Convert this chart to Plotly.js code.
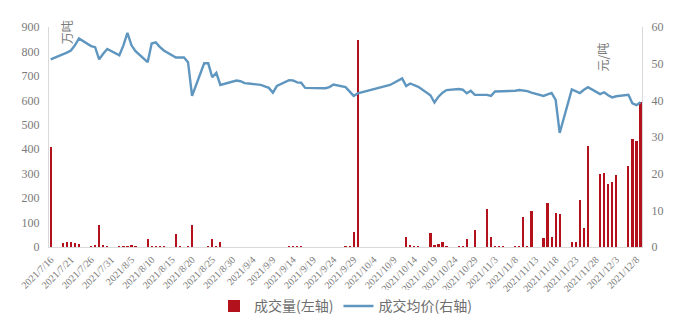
<!DOCTYPE html>
<html>
<head>
<meta charset="utf-8">
<script src="https://cdn.plot.ly/plotly-3.0.1.min.js"></script>
<style>
  html, body { margin: 0; padding: 0; background: #ffffff; }
  #chart { width: 693px; height: 335px; }
</style>
</head>
<body>
<div id="chart"></div>
<script>
// Trading days of the national carbon allowance market
const tradeDates = [
  '2021-07-16','2021-07-19','2021-07-20','2021-07-21','2021-07-22','2021-07-23',
  '2021-07-26','2021-07-27','2021-07-28','2021-07-29','2021-07-30',
  '2021-08-02','2021-08-03','2021-08-04','2021-08-05','2021-08-06',
  '2021-08-09','2021-08-10','2021-08-11','2021-08-12','2021-08-13',
  '2021-08-16','2021-08-17','2021-08-18','2021-08-19','2021-08-20',
  '2021-08-23','2021-08-24','2021-08-25','2021-08-26','2021-08-27',
  '2021-08-30','2021-08-31','2021-09-01','2021-09-02','2021-09-03',
  '2021-09-06','2021-09-07','2021-09-08','2021-09-09','2021-09-10',
  '2021-09-13','2021-09-14','2021-09-15','2021-09-16','2021-09-17',
  '2021-09-22','2021-09-23','2021-09-24',
  '2021-09-27','2021-09-28','2021-09-29','2021-09-30',
  '2021-10-08',
  '2021-10-11','2021-10-12','2021-10-13','2021-10-14','2021-10-15',
  '2021-10-18','2021-10-19','2021-10-20','2021-10-21','2021-10-22',
  '2021-10-25','2021-10-26','2021-10-27','2021-10-28','2021-10-29',
  '2021-11-01','2021-11-02','2021-11-03','2021-11-04','2021-11-05',
  '2021-11-08','2021-11-09','2021-11-10','2021-11-11','2021-11-12',
  '2021-11-15','2021-11-16','2021-11-17','2021-11-18','2021-11-19',
  '2021-11-22','2021-11-23','2021-11-24','2021-11-25','2021-11-26',
  '2021-11-29','2021-11-30','2021-12-01','2021-12-02','2021-12-03',
  '2021-12-06','2021-12-07','2021-12-08','2021-12-09'
];

// Daily volume, 万吨 (left axis)
const volume = [
  410, 16, 20, 22, 16, 12,
  5, 8, 88, 10, 5,
  5, 6, 4, 7, 3,
  31, 5, 3, 4, 6,
  52, 3, 2, 4, 92,
  2, 5, 31, 3, 22,
  2, 2, 2, 2, 2,
  2, 2, 2, 2, 2,
  3, 3, 3, 3, 2,
  2, 2, 2,
  3, 6, 63, 848,
  2,
  2, 42, 8, 3, 3,
  56, 10, 12, 22, 4,
  3, 6, 33, 2, 70,
  154, 42, 3, 3, 3,
  3, 3, 124, 3, 147,
  35, 181, 40, 138, 134,
  22, 22, 192, 76, 413,
  299, 304, 258, 267, 294,
  331, 442, 435, 595
];

// Daily average price, 元/吨 (right axis)
const avgPrice = [
  51.2, 52.4, 53.0, 53.6, 55.0, 56.9,
  54.8, 54.5, 51.2, 52.7, 54.0,
  52.3, 55.0, 58.4, 55.0, 53.4,
  50.4, 55.5, 55.8, 54.6, 53.6,
  51.7, 51.6, 51.7, 50.4, 41.2,
  50.1, 50.1, 46.3, 47.5, 44.2,
  45.0, 45.4, 45.2, 44.7, 44.6,
  44.2, 43.8, 43.4, 42.1, 43.9,
  45.5, 45.4, 44.9, 44.8, 43.4,
  43.3, 43.6, 44.3,
  43.6, 42.5, 41.2, 41.9,
  44.2,
  46.0, 43.9, 44.6, 44.1, 43.7,
  41.4, 39.4, 41.0, 42.1, 42.8,
  43.1, 42.9, 41.9, 42.6, 41.5,
  41.5, 41.2, 42.4, 42.4, 42.5,
  42.6, 42.8, 42.7, 42.5, 42.1,
  41.2, 41.6, 42.0, 40.1, 31.1,
  43.0, 42.5, 42.0, 42.9, 43.6,
  41.7, 42.2, 41.4, 40.8, 41.1,
  41.5, 39.2, 38.7, 39.5
];

const seriesNames = ['成交量(左轴)', '成交均价(右轴)'];
const unitLeft = '万吨';
const unitRight = '元/吨';

const DAY = 86400000;
const serif = 'Liberation Serif, Times New Roman, serif';
const cjk = 'Noto Sans CJK SC, Noto Sans, sans-serif';

const traces = [
  {
    type: 'bar',
    name: seriesNames[0],
    x: tradeDates,
    y: volume,
    yaxis: 'y',
    width: DAY * 0.55,
    marker: { color: '#b3121c', line: { width: 0 } },
    hoverinfo: 'x+y'
  },
  {
    type: 'scatter',
    mode: 'lines',
    name: seriesNames[1],
    x: tradeDates,
    y: avgPrice,
    yaxis: 'y2',
    line: { color: '#5f96bf', width: 2.4 },
    hoverinfo: 'x+y'
  }
];

const layout = {
  width: 693,
  height: 335,
  paper_bgcolor: '#ffffff',
  plot_bgcolor: '#ffffff',
  margin: { l: 49, r: 51, t: 27, b: 88 },
  showlegend: true,
  bargap: 0,
  xaxis: {
    type: 'date',
    range: ['2021-07-15 14:00', '2021-12-09 09:00'],
    tick0: '2021-07-16',
    dtick: DAY * 5,
    tickformat: '%Y/%-m/%-d',
    tickangle: -45,
    tickfont: { family: serif, size: 10, color: '#7a7a7a' },
    ticks: 'outside',
    ticklen: 2,
    tickcolor: 'rgba(0,0,0,0)',
    showgrid: false,
    zeroline: false,
    showline: true,
    linecolor: '#d9d9d9',
    linewidth: 1
  },
  yaxis: {
    range: [0, 900],
    dtick: 100,
    tickfont: { family: serif, size: 12, color: '#7a7a7a' },
    showgrid: false,
    zeroline: false,
    showline: true,
    linecolor: '#d9d9d9',
    linewidth: 1,
    ticks: 'outside',
    ticklen: 6,
    tickcolor: 'rgba(0,0,0,0)'
  },
  yaxis2: {
    overlaying: 'y',
    side: 'right',
    range: [0, 60],
    dtick: 10,
    tickfont: { family: serif, size: 12, color: '#7a7a7a' },
    showgrid: false,
    zeroline: false,
    showline: true,
    linecolor: '#d9d9d9',
    linewidth: 1,
    ticks: 'outside',
    ticklen: 6,
    tickcolor: 'rgba(0,0,0,0)'
  },
  legend: {
    orientation: 'h',
    x: 0.5,
    xanchor: 'center',
    y: -0.27,
    yanchor: 'middle',
    font: { family: cjk, size: 14, color: '#6e6e6e' },
    itemwidth: 30
  },
  annotations: [
    {
      text: unitLeft, xref: 'paper', yref: 'paper',
      x: 0.03, y: 0.975, xanchor: 'center', yanchor: 'middle',
      textangle: -90, showarrow: false,
      font: { family: cjk, size: 12, color: '#7a7a7a' }
    },
    {
      text: unitRight, xref: 'paper', yref: 'paper',
      x: 0.934, y: 0.865, xanchor: 'center', yanchor: 'middle',
      textangle: -90, showarrow: false,
      font: { family: cjk, size: 12, color: '#7a7a7a' }
    }
  ]
};

Plotly.newPlot('chart', traces, layout, { displayModeBar: false, staticPlot: true });
</script>
</body>
</html>
